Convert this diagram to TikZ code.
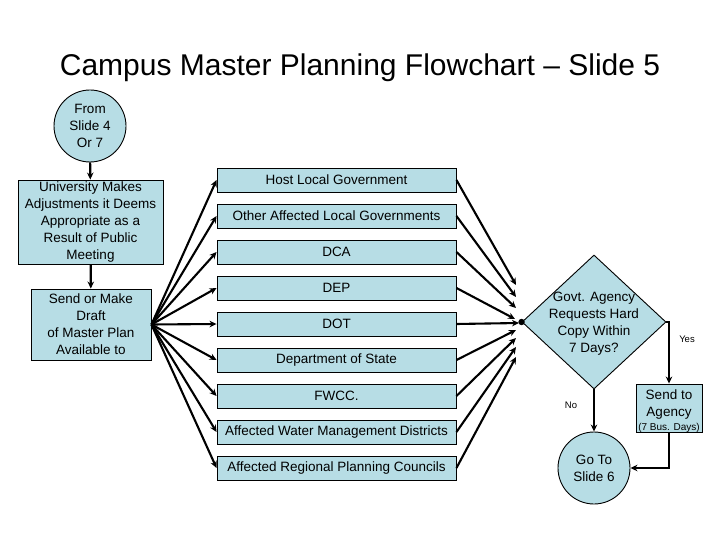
\documentclass[tikz,border=0pt]{standalone}
\usepackage{fontspec}
\setmainfont{Liberation Sans}
\usetikzlibrary{shapes.geometric,arrows.meta}
\definecolor{boxfill}{RGB}{183,221,229}
\begin{document}
\begin{tikzpicture}[x=1pt,y=-1pt,
  base/.style={draw=black, line width=0.9pt, fill=boxfill, inner sep=0pt, align=center, font=\fontsize{13.5}{17}\selectfont},
  rbox/.style={base, rectangle},
  mbox/.style={rbox, minimum width=239pt, minimum height=24pt},
  cbox/.style={base, circle, minimum size=72pt},
  txt/.style={inner sep=0pt, align=center, font=\fontsize{13.5}{17}\selectfont},
  arr/.style={line width=2.1pt, -{Stealth[length=7pt,width=6.5pt]}},
  lbl/.style={font=\fontsize{9.5}{11}\selectfont, inner sep=0pt}
]
\useasboundingbox (0,0) rectangle (720,540);
\fill[white] (0,0) rectangle (720,540);

\node[inner sep=0pt, font=\fontsize{30}{36}\selectfont] (title) at (360,68) {Campus Master Planning Flowchart -- Slide 5};

\node[cbox] (from) at (90,126) {From\\Slide 4\\Or 7};
\node[rbox, minimum width=145pt, minimum height=84pt] (univ) at (90.5,222) {University Makes\\Adjustments it Deems\\Appropriate as a\\Result of Public\\Meeting};
\node[rbox, minimum width=120pt, minimum height=71pt] (send) at (91,324.5) {Send or Make\\Draft\\of Master Plan\\Available to};

\draw[arr] (from) -- (univ);
\draw[arr] (univ) -- (send);

\foreach \i/\t in {1/Host Local Government, 2/Other Affected Local Governments, 3/DCA, 4/DEP, 5/DOT, 6/Department of State, 7/FWCC., 8/Affected Water Management Districts, 9/Affected Regional Planning Councils}
  \node[mbox] (m\i) at (336.5,144+36*\i) {\t};

\foreach \i in {1,...,9}
  \draw[arr] (send.east) -- (m\i.west);

\node[base, diamond, minimum width=144pt, minimum height=134pt] (dia) at (594,322) {};
\node[txt] (diatext) at (594,324) {Govt. Agency\\Requests Hard\\Copy Within\\7 Days?};

\coordinate (e1) at (516,285);
\coordinate (e2) at (516,297);
\coordinate (e3) at (516,308);
\coordinate (e4) at (515,319);
\coordinate (e5) at (519,323);
\coordinate (e6) at (516,330);
\coordinate (e7) at (516,338);
\coordinate (e8) at (516,347);
\coordinate (e9) at (516,357);
\foreach \i in {1,...,9}
  \draw[arr] (m\i.east) -- (e\i);
\fill (dia.west) circle (3.2pt);

\node[rbox, minimum width=66pt, minimum height=48pt] (agency) at (669,408) {};
\node[txt] (agencytext) at (669,411) {Send to\\Agency\\[-3pt]{\fontsize{10}{12}\selectfont (7 Bus. Days)}};
\node[cbox] (go) at (594,468) {Go To\\Slide 6};

\draw[arr] (dia.east) -| (agency.north);
\draw[arr] (dia.south) -- (go.north);
\draw[arr] (agency.south) |- (go.east);

\node[lbl] (yes) at (687,339) {Yes};
\node[lbl] (no) at (571,405) {No};
\end{tikzpicture}
\end{document}
